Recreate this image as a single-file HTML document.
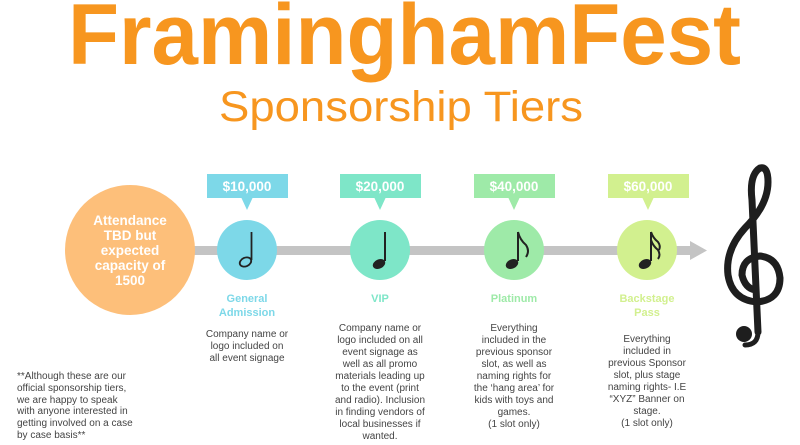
<!DOCTYPE html>
<html><head><meta charset="utf-8"><style>
html,body{margin:0;padding:0;background:#fff;}
svg{display:block;font-family:"Liberation Sans",Arial,sans-serif;}
</style></head><body>
<svg width="800" height="445" viewBox="0 0 800 445" xmlns="http://www.w3.org/2000/svg">
<text x="68" y="64" font-size="86" font-weight="bold" fill="#f7961f" textLength="673" lengthAdjust="spacingAndGlyphs">FraminghamFest</text>
<text x="219" y="121" font-size="43" fill="#f7961f" textLength="364" lengthAdjust="spacingAndGlyphs">Sponsorship Tiers</text>

<rect x="190" y="246" width="500" height="9" fill="#c4c4c4"/>
<polygon points="690,241 707,250.5 690,260" fill="#c4c4c4"/>

<circle cx="130" cy="250" r="65" fill="#fdbf7a"/>
<g fill="#fff" font-size="13.5" font-weight="bold" text-anchor="middle">
<text x="130" y="225">Attendance</text>
<text x="130" y="240">TBD but</text>
<text x="130" y="255">expected</text>
<text x="130" y="270">capacity of</text>
<text x="130" y="285">1500</text>
</g>

<g font-size="13.5" font-weight="bold" fill="#fff" text-anchor="middle">
<rect x="207" y="174" width="81" height="24" fill="#7dd8e8"/><polygon points="241,197 253,197 247,210" fill="#7dd8e8"/>
<text x="247" y="191">$10,000</text>
<rect x="340" y="174" width="81" height="24" fill="#7ee6c8"/><polygon points="374,197 386,197 380,210" fill="#7ee6c8"/>
<text x="380" y="191">$20,000</text>
<rect x="474" y="174" width="81" height="24" fill="#9eeaa8"/><polygon points="508,197 520,197 514,210" fill="#9eeaa8"/>
<text x="514" y="191">$40,000</text>
<rect x="608" y="174" width="81" height="24" fill="#d2f08f"/><polygon points="642,197 654,197 648,210" fill="#d2f08f"/>
<text x="648" y="191">$60,000</text>
</g>

<circle cx="247" cy="250" r="30" fill="#7dd8e8"/>
<circle cx="380" cy="250" r="30" fill="#7ee6c8"/>
<circle cx="514" cy="250" r="30" fill="#9eeaa8"/>
<circle cx="647" cy="250" r="30" fill="#d2f08f"/>

<g stroke="#222" fill="#222">
<line x1="251.5" y1="232" x2="251.5" y2="260" stroke-width="1.8"/>
<ellipse cx="245.5" cy="262" rx="6" ry="4.3" transform="rotate(-25 245.5 262)" fill="none" stroke-width="1.8"/>
<line x1="385" y1="232" x2="385" y2="261" stroke-width="2"/>
<ellipse cx="379" cy="264" rx="6.5" ry="4.6" transform="rotate(-25 379 264)" stroke="none"/>
<line x1="518" y1="232" x2="518" y2="261" stroke-width="2"/>
<ellipse cx="512" cy="264" rx="6.5" ry="4.6" transform="rotate(-25 512 264)" stroke="none"/>
<path d="M518 232 Q520 240 526 245 Q530 251 526 257" fill="none" stroke-width="2"/>
<line x1="651" y1="232" x2="651" y2="261" stroke-width="2"/>
<ellipse cx="645" cy="264" rx="6.5" ry="4.6" transform="rotate(-25 645 264)" stroke="none"/>
<path d="M651 232 Q653 238 658 242 Q661 246 659 250" fill="none" stroke-width="2"/>
<path d="M651 240 Q653 246 658 250 Q661 255 658 259" fill="none" stroke-width="2"/>
</g>

<g fill="none" stroke="#1e1e1e" stroke-linecap="round">
<path d="M758 332 L752 200 Q749 175 760 168 Q768 166 768 182 Q768 205 745 228 Q725 250 728 275 Q732 300 757 302 Q780 300 780 278 Q778 258 760 256 Q742 258 742 275 Q745 288 755 290" stroke-width="7"/>
<path d="M758 332 Q758 345 745 345" stroke-width="5"/>
</g>
<circle cx="744" cy="334" r="8" fill="#1e1e1e"/>

<g font-size="11" font-weight="bold" text-anchor="middle">
<text x="247" y="302" fill="#7dd8e8">General</text>
<text x="247" y="316" fill="#7dd8e8">Admission</text>
<text x="380" y="302" fill="#7ee6c8">VIP</text>
<text x="514" y="302" fill="#9eeaa8">Platinum</text>
<text x="647" y="302" fill="#d2f08f">Backstage</text>
<text x="647" y="316" fill="#d2f08f">Pass</text>
</g>

<g font-size="10" fill="#444" text-anchor="middle">
<text x="247" y="337">Company name or</text>
<text x="247" y="349">logo included on</text>
<text x="247" y="361">all event signage</text>

<text x="380" y="331">Company name or</text>
<text x="380" y="343">logo included on all</text>
<text x="380" y="355">event signage as</text>
<text x="380" y="367">well as all promo</text>
<text x="380" y="379">materials leading up</text>
<text x="380" y="391">to the event (print</text>
<text x="380" y="403">and radio). Inclusion</text>
<text x="380" y="415">in finding vendors of</text>
<text x="380" y="427">local businesses if</text>
<text x="380" y="439">wanted.</text>

<text x="514" y="331">Everything</text>
<text x="514" y="343">included in the</text>
<text x="514" y="355">previous sponsor</text>
<text x="514" y="367">slot, as well as</text>
<text x="514" y="379">naming rights for</text>
<text x="514" y="391">the ‘hang area’ for</text>
<text x="514" y="403">kids with toys and</text>
<text x="514" y="415">games.</text>
<text x="514" y="427">(1 slot only)</text>

<text x="647" y="342">Everything</text>
<text x="647" y="354">included in</text>
<text x="647" y="366">previous Sponsor</text>
<text x="647" y="378">slot, plus stage</text>
<text x="647" y="390">naming rights- I.E</text>
<text x="647" y="402">“XYZ” Banner on</text>
<text x="647" y="414">stage.</text>
<text x="647" y="426">(1 slot only)</text>
</g>

<g font-size="10" fill="#444">
<text x="17" y="379">**Although these are our</text>
<text x="17" y="391">official sponsorship tiers,</text>
<text x="17" y="403">we are happy to speak</text>
<text x="17" y="414">with anyone interested in</text>
<text x="17" y="426">getting involved on a case</text>
<text x="17" y="438">by case basis**</text>
</g>
</svg>
</body></html>
